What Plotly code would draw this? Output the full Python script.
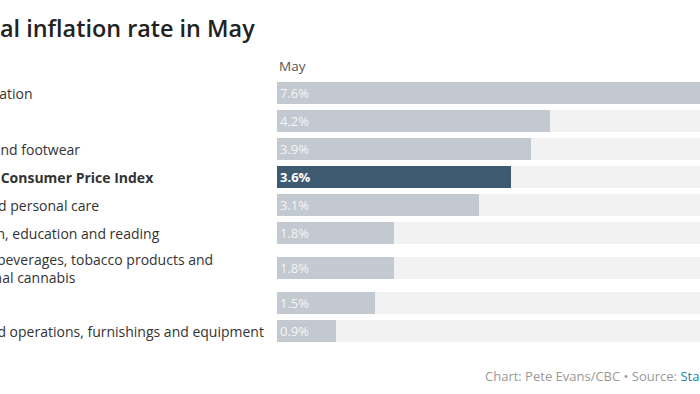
import plotly.graph_objects as go

# ---- data ----
categories = [
    "Transportation",
    "Shelter",
    "Clothing and footwear",
    "All-items Consumer Price Index",
    "Health and personal care",
    "Recreation, education and reading",
    "Alcoholic beverages, tobacco products and<br>recreational cannabis",
    "Food",
    "Household operations, furnishings and equipment",
]
values = [7.6, 4.2, 3.9, 3.6, 3.1, 1.8, 1.8, 1.5, 0.9]
highlight = "All-items Consumer Price Index"
column_title = "May"
title_text = "Annual inflation rate in May"
credit_text = "Chart: Pete Evans/CBC • Source: "
source_text = "Statistics Canada"

# ---- layout constants ----
W, H = 700, 394
PLOT_L = 277            # pixel where bars start
PX_PER_UNIT = 65.1      # pixels per percentage point
ROW_PX = 28
TOP = 79
FONT = "Open Sans"

# row centres derived from number of label lines
heights = [1 + 0.5 * c.count("<br>") for c in categories]
centers, acc = [], 0.0
for h in heights:
    centers.append(acc + h / 2)
    acc += h
y_max = acc

plot_w = W - PLOT_L
plot_h = y_max * ROW_PX
bottom = H - TOP - plot_h
x_max = plot_w / PX_PER_UNIT
track_val = max(values)

bar_colors = ["#3e5a71" if c == highlight else "#c2c9d0" for c in categories]
text_colors = ["#ffffff" if c == highlight else "#f4f5f6" for c in categories]
bar_text = [f"<b>{v:.1f}%</b>" if c == highlight else f"{v:.1f}%"
            for c, v in zip(categories, values)]

fig = go.Figure()
fig.add_trace(go.Bar(
    x=[track_val] * len(values), y=centers, orientation="h",
    marker=dict(color="#f2f2f2", line=dict(width=0)),
    width=0.8, hoverinfo="skip", showlegend=False,
))
fig.add_trace(go.Bar(
    x=values, y=centers, orientation="h",
    marker=dict(color=bar_colors, line=dict(width=0)),
    width=0.8, showlegend=False,
    text=bar_text,
    textposition="inside", insidetextanchor="start",
    textfont=dict(family=FONT, size=13, color=text_colors),
    constraintext="none", cliponaxis=True,
))

px_x = lambda px: (px - PLOT_L) / plot_w
px_y = lambda py: (H - py - bottom) / plot_h

annotations = []
for c, yc in zip(categories, centers):
    bold = c == highlight
    annotations.append(dict(
        x=px_x(-67), xref="paper", y=yc, yref="y",
        text=f"<b>{c}</b>" if bold else c,
        xanchor="left", yanchor="middle", align="left", showarrow=False,
        font=dict(family=FONT, size=14, color="#333333"),
    ))
annotations.append(dict(
    x=0, xref="paper", y=px_y(66), yref="paper", text=column_title,
    showarrow=False, xanchor="left", yanchor="middle",
    font=dict(family=FONT, size=13.5, color="#555555"),
))
annotations.append(dict(
    x=px_x(257), xref="paper", y=px_y(28), yref="paper",
    text=title_text, showarrow=False, xanchor="right", yanchor="middle",
    font=dict(family=FONT, size=23.4, color="#222222", weight=600),
))
annotations.append(dict(
    x=px_x(483), xref="paper", y=px_y(376), yref="paper",
    text=credit_text + f"<span style='color:#1d81a2'>{source_text}</span>",
    showarrow=False, xanchor="left", yanchor="middle",
    font=dict(family=FONT, size=13, color="#999999"),
))

fig.update_layout(
    width=W, height=H,
    margin=dict(l=PLOT_L, r=0, t=TOP, b=bottom, pad=0),
    paper_bgcolor="white", plot_bgcolor="white",
    barmode="overlay", bargap=0,
    xaxis=dict(range=[0, x_max], visible=False, fixedrange=True),
    yaxis=dict(range=[y_max, 0], visible=False, fixedrange=True),
    annotations=annotations,
    font=dict(family=FONT),
)
fig.write_html(
    "out.html",
    config={"displayModeBar": False},
    post_script="document.body.style.margin='0';document.body.style.overflow='hidden';",
)
